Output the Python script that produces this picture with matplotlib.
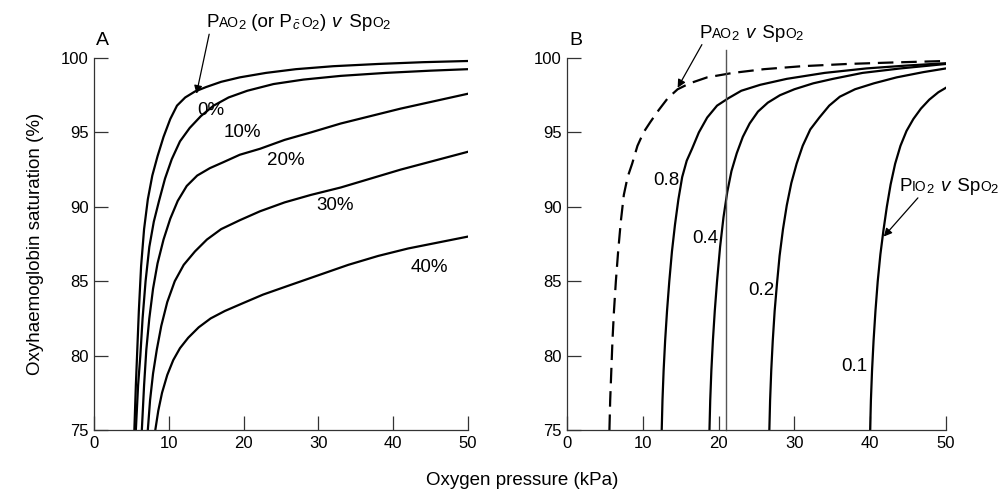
import matplotlib
matplotlib.use("Agg")
import matplotlib.pyplot as plt
from matplotlib.offsetbox import TextArea, HPacker, AnnotationBbox, DrawingArea

plt.rcParams['font.family'] = ['Liberation Sans', 'DejaVu Sans']
plt.rcParams['mathtext.fontset'] = 'custom'
plt.rcParams['mathtext.rm'] = 'Liberation Sans'
plt.rcParams['mathtext.it'] = 'Liberation Sans:italic'

# Panel A: PAO2 v SpO2 for different shunt fractions
shunt_labels = ['0%', '10%', '20%', '30%', '40%']
shunt_x = [
    [5.4, 5.6, 5.8, 6.0, 6.3, 6.7, 7.2, 7.8, 8.5, 9.3, 10.2, 11.1, 12.2, 13.5, 15.0, 17.0, 19.5, 23, 27, 32, 38, 44, 50],
    [5.6, 5.9, 6.2, 6.5, 6.9, 7.4, 8.0, 8.7, 9.5, 10.4, 11.5, 12.8, 14.3, 16.0, 18.0, 20.5, 24, 28, 33, 39, 45, 50],
    [6.4, 6.7, 7.0, 7.4, 7.9, 8.5, 9.3, 10.2, 11.2, 12.4, 13.8, 15.5, 17.3, 19.5, 22.2, 25.5, 29, 33, 37, 41, 45.5, 50],
    [7.2, 7.5, 7.9, 8.4, 9.0, 9.8, 10.8, 12.0, 13.5, 15.1, 17.0, 19.5, 22.2, 25.5, 29, 33, 37, 41, 45.5, 50],
    [8.2, 8.6, 9.1, 9.8, 10.6, 11.5, 12.6, 14.0, 15.6, 17.5, 19.8, 22.6, 26, 30, 34, 38, 42, 46, 50],
]
shunt_y = [
    [75, 78, 80.5, 83, 86, 88.5, 90.5, 92.1, 93.4, 94.7, 95.9, 96.8, 97.35, 97.75, 98.05, 98.4, 98.7, 99.0, 99.25, 99.45, 99.6, 99.72, 99.8],
    [75, 78, 80, 82.5, 85, 87.3, 89.0, 90.4, 91.9, 93.2, 94.4, 95.3, 96.1, 96.8, 97.35, 97.8, 98.25, 98.55, 98.8, 99.0, 99.15, 99.25],
    [75, 78, 80.4, 82.5, 84.5, 86.2, 87.8, 89.2, 90.4, 91.4, 92.1, 92.6, 93.0, 93.5, 93.9, 94.5, 95.0, 95.6, 96.1, 96.6, 97.1, 97.6],
    [75, 77, 78.8, 80.4, 82.0, 83.6, 85.0, 86.1, 87.0, 87.8, 88.5, 89.1, 89.7, 90.3, 90.8, 91.3, 91.9, 92.5, 93.1, 93.7],
    [75, 76.3, 77.5, 78.7, 79.7, 80.5, 81.2, 81.9, 82.5, 83.0, 83.5, 84.1, 84.7, 85.4, 86.1, 86.7, 87.2, 87.6, 88.0],
]
shunt_label_pos = [(15.6, 96.5), (19.8, 95.0), (25.7, 93.1), (32.3, 90.1), (44.8, 85.9)]

# Panel B: PAO2 (dashed) and PIO2 curves for FIO2 values
pao2_x = [5.6, 5.7, 5.85, 6.0, 6.2, 6.45, 6.75, 7.1, 7.5, 8.0, 8.6, 9.3, 10.1, 11.0, 12.1, 13.3, 14.6,
          16.2, 18.5, 21.9, 26, 31, 37, 43, 50]
pao2_y = [75, 77, 79, 81, 83, 85, 87, 89, 90.8, 92.0, 92.9, 94.1, 95.0, 95.7, 96.5, 97.3, 97.9,
          98.3, 98.7, 99.0, 99.25, 99.45, 99.6, 99.7, 99.8]

fio2_labels = ['0.8', '0.4', '0.2', '0.1']
pio2_x = [
    [12.5, 12.6, 12.75, 12.95, 13.2, 13.5, 13.85, 14.25, 14.7, 15.2, 15.8, 16.5, 17.4, 18.5, 19.8, 21.3, 23.0,
     25.5, 29.0, 34, 39.5, 45, 50],
    [18.8, 18.9, 19.05, 19.25, 19.5, 19.8, 20.2, 20.65, 21.15, 21.7, 22.4, 23.2, 24.1, 25.2, 26.5, 28.1, 30,
     32.5, 35.1, 39, 44, 50],
    [26.7, 26.8, 26.95, 27.15, 27.4, 27.7, 28.05, 28.5, 29.0, 29.6, 30.3, 31.1, 32.1, 33.3, 34.6, 36.0, 38.0,
     40.5, 43.5, 47, 50],
    [40.0, 40.1, 40.25, 40.45, 40.7, 41.0, 41.35, 41.75, 42.2, 42.7, 43.3, 44.0, 44.8, 45.7, 46.7, 47.8, 49.0, 50],
]
pio2_y = [
    [75, 77, 79, 81, 83, 85, 87, 88.8, 90.5, 92.0, 93.1, 93.9, 95.0, 96.0, 96.8, 97.3, 97.8,
     98.2, 98.6, 99.0, 99.3, 99.5, 99.65],
    [75, 77, 79, 81, 83, 85, 87.3, 89.3, 91.0, 92.4, 93.6, 94.7, 95.6, 96.4, 97.0, 97.5, 97.9,
     98.3, 98.6, 99.0, 99.3, 99.6],
    [75, 77, 79, 81, 83, 84.8, 86.7, 88.5, 90.1, 91.6, 92.9, 94.1, 95.2, 96.0, 96.8, 97.4, 97.9,
     98.3, 98.7, 99.05, 99.3],
    [75, 77, 79, 81, 83, 85, 86.8, 88.4, 90.0, 91.5, 92.9, 94.1, 95.1, 95.9, 96.6, 97.2, 97.7, 98.0],
]
fio2_label_pos = [(13.1, 91.8), (18.2, 87.9), (25.7, 84.4), (37.9, 79.3)]

xticks = [0, 10, 20, 30, 40, 50]
yticks = [75, 80, 85, 90, 95, 100]

BIG = 13.5
SMALL = 10.0
SUB = '$_2$'
V = '$\\ \\mathit{v}$'
KERN = -0.8  # points, pulls a subscript back against its letter


def rich_label(ax, pieces, xy):
    # text made of pieces in two sizes (small caps style letters), left-centred at xy
    boxes = []
    for s, fs in pieces:
        if s is None:
            boxes.append(DrawingArea(fs, 0))
        else:
            boxes.append(TextArea(s, textprops=dict(fontsize=fs, color='black')))
    pack = HPacker(children=boxes, align='baseline', pad=0, sep=0)
    ab = AnnotationBbox(pack, xy, xycoords='data', box_alignment=(0, 0.5),
                        frameon=False, pad=0, annotation_clip=False)
    ax.add_artist(ab)


def arrow(ax, start, tip):
    ax.annotate('', xy=tip, xytext=start, annotation_clip=False,
                arrowprops=dict(arrowstyle='-|>', color='black', lw=0.9, shrinkA=0, shrinkB=0,
                                mutation_scale=12))


fig = plt.figure(figsize=(10.06, 4.95), dpi=100)
axA = fig.add_axes([0.0934, 0.1313, 0.3718, 0.7515])
axB = fig.add_axes([0.5636, 0.1313, 0.3767, 0.7515])

for ax in (axA, axB):
    ax.set_xlim(0, 50)
    ax.set_ylim(75, 100)
    ax.set_xticks(xticks)
    ax.set_yticks(yticks)
    ax.spines['top'].set_visible(False)
    ax.spines['right'].set_visible(False)
    for s in ('left', 'bottom'):
        ax.spines[s].set_color('#333333')
        ax.spines[s].set_linewidth(0.9)
    ax.tick_params(direction='in', length=10, width=0.9, color='#333333', labelsize=12, pad=4)

# panel A
for xs, ys in zip(shunt_x, shunt_y):
    axA.plot(xs, ys, color='black', lw=1.6)
for lab, (tx, ty) in zip(shunt_labels, shunt_label_pos):
    axA.text(tx, ty, lab, fontsize=BIG, ha='center', va='center')
axA.text(0.3, 100.6, 'A', fontsize=14, ha='left', va='bottom')
rich_label(axA, [('P', BIG), ('AO', SMALL), (None, KERN), (SUB, BIG), (' (or P', BIG),
                 ('$_{\\bar{c}}$', BIG), (None, 0.5), ('O', SMALL), (None, KERN), (SUB, BIG),
                 (')', BIG), (V, BIG), (' Sp', BIG), ('O', SMALL), (None, KERN), (SUB, BIG)],
           (15.0, 102.35))
arrow(axA, (15.4, 101.6), (13.7, 97.6))

# panel B
axB.plot(pao2_x, pao2_y, color='black', lw=1.6, dashes=(7, 3.5))
for xs, ys in zip(pio2_x, pio2_y):
    axB.plot(xs, ys, color='black', lw=1.6)
for lab, (tx, ty) in zip(fio2_labels, fio2_label_pos):
    axB.text(tx, ty, lab, fontsize=BIG, ha='center', va='center')
axB.plot([21, 21], [75, 100.55], color='#555555', lw=1.0, clip_on=False)
axB.text(0.3, 100.6, 'B', fontsize=14, ha='left', va='bottom')
rich_label(axB, [('P', BIG), ('AO', SMALL), (None, KERN), (SUB, BIG), (V, BIG), (' Sp', BIG),
                 ('O', SMALL), (None, KERN), (SUB, BIG)], (17.5, 101.6))
arrow(axB, (17.8, 100.9), (14.6, 98.0))
rich_label(axB, [('P', BIG), ('IO', SMALL), (None, KERN), (SUB, BIG), (V, BIG), (' Sp', BIG),
                 ('O', SMALL), (None, KERN), (SUB, BIG)], (43.9, 91.3))
arrow(axB, (46.3, 90.6), (41.8, 88.0))

axA.set_ylabel('Oxyhaemoglobin saturation (%)', fontsize=BIG, labelpad=12)
fig.text(0.519, 0.03, 'Oxygen pressure (kPa)', fontsize=BIG, ha='center', va='center')

fig.savefig('out.png', dpi=100)
